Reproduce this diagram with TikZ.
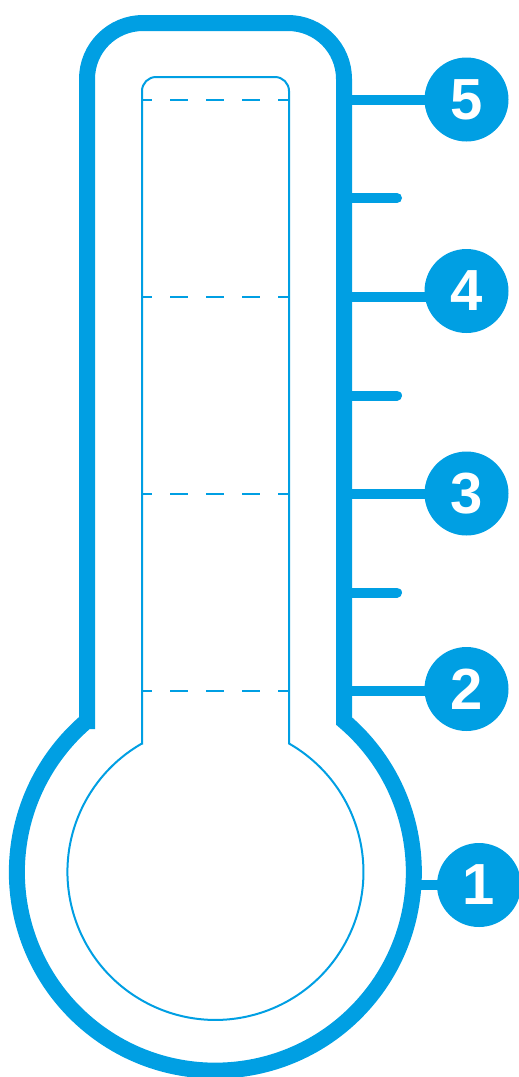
\documentclass[tikz,border=0pt]{standalone}
\usepackage{fontspec}
\usepackage{tikz}
\usetikzlibrary{positioning,backgrounds}
\newfontfamily\numfont{Liberation Sans}
\definecolor{thermo}{HTML}{009FE3}

\begin{document}
\begin{tikzpicture}[x=1pt,y=-1pt,
  tube/.style={draw=thermo,line width=16pt},
  bore/.style={draw=thermo,line width=2pt},
  level/.style={thermo,line width=2pt,dash pattern=on 18pt off 18pt,dash phase=8pt},
  tick/.style={thermo,line width=10pt},
  minor/.style={tick,line cap=round},
  num/.style={circle,fill=thermo,minimum size=84pt,inner sep=0pt,text=white,
    font=\numfont\bfseries\fontsize{58}{58}\selectfont}]
\useasboundingbox (0,0) rectangle (519,1077);
% outer glass
\draw[tube] (87,721) -- (87,79) arc[start angle=180,end angle=270,radius=56]
  -- (288,23) arc[start angle=270,end angle=360,radius=56]
  -- (344,721) arc[start angle=-49.6,end angle=229.6,radius=198.5] -- cycle;
% inner bore and bulb
\draw[bore] (142,743.5) -- (142,91) arc[start angle=180,end angle=270,radius=14]
  -- (275,77) arc[start angle=270,end angle=360,radius=14]
  -- (289,743.5) arc[start angle=-60.2,end angle=240.2,radius=148] -- cycle;
\foreach \y in {100,297,494,691}
  \draw[level] (142,\y) -- (289,\y);
% scale marks
\node[num] (n5) at (466.5,99.5) {5};
\node[num] (n4) at (466.5,291) {4};
\node[num] (n3) at (466.5,493.5) {3};
\node[num] (n2) at (466.5,689) {2};
\node[num] (n1) at (479,885) {1};
\coordinate (t5) at (344,99.5);
\coordinate (t4) at (344,297);
\coordinate (t3) at (344,494);
\coordinate (t2) at (344,691);
\coordinate (t1) at (413,885);
\begin{scope}[on background layer]
\draw[tick] (t5) -- (t5 -| n5);
\draw[tick] (t4) -- (t4 -| n4);
\draw[tick] (t3) -- (t3 -| n3);
\draw[tick] (t2) -- (t2 -| n2);
\draw[tick] (t1) -- (t1 -| n1);
\end{scope}
\coordinate (m4a) at (344,198);   \coordinate (m4b) at (397,198);
\coordinate (m3a) at (344,395.5); \coordinate (m3b) at (397,395.5);
\coordinate (m2a) at (344,592.5); \coordinate (m2b) at (397,592.5);
\draw[minor] (m4a) -- (m4b);
\draw[minor] (m3a) -- (m3b);
\draw[minor] (m2a) -- (m2b);
\end{tikzpicture}
\end{document}
